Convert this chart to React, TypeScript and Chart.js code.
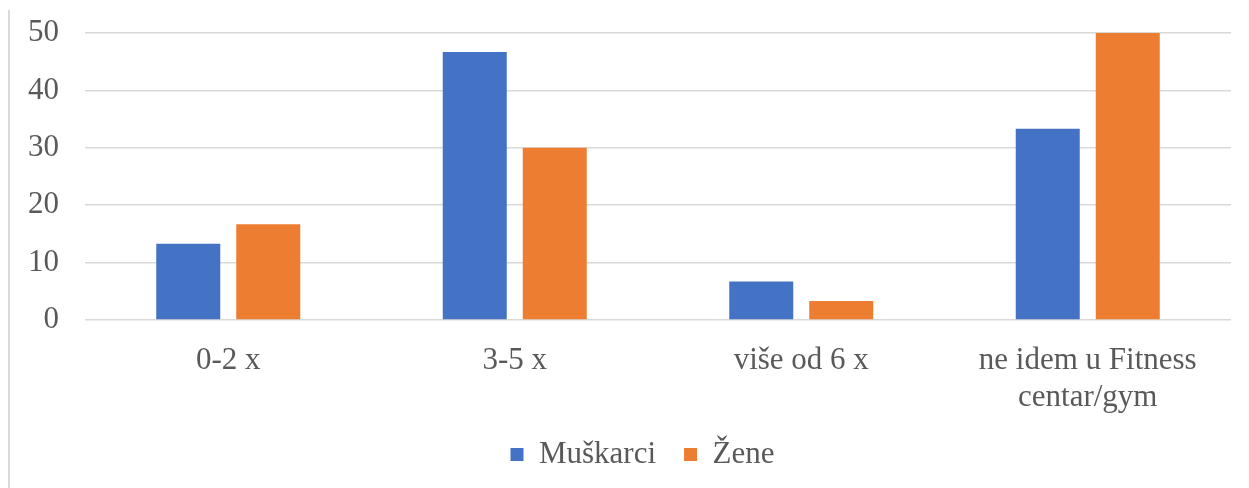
import React, { useEffect, useRef } from "react";
import { Chart, registerables } from "chart.js";

Chart.register(...registerables);

const categories: (string | string[])[] = ["0-2 x", "3-5 x", "više od 6 x", ["ne idem u Fitness", "centar/gym"]];
const muskarci = [13.3, 46.7, 6.7, 33.3];
const zene = [16.7, 30, 3.3, 50];
const yTicks = [0, 10, 20, 30, 40, 50];

const FONT = "'Liberation Serif', 'Times New Roman', serif";
const TEXT = "#595959";
const GRID = "#d9d9d9";
const FS = 31;

const legendShift = {
  id: "legendShift",
  afterLayout(chart: any) {
    const lg = chart.legend;
    if (!lg) return;
    lg.left += 27;
    lg.right += 27;
    lg.top -= 6;
    lg.bottom -= 6;
  },
};

export default function App() {
  const ref = useRef<HTMLCanvasElement>(null);
  useEffect(() => {
    if (!ref.current) return;
    const chart = new Chart(ref.current, {
      type: "bar",
      data: {
        labels: categories,
        datasets: [
          { label: "Muškarci", data: muskarci, backgroundColor: "#4472C4", categoryPercentage: 0.5585, barPercentage: 0.8 },
          { label: "Žene", data: zene, backgroundColor: "#ED7D31", categoryPercentage: 0.5585, barPercentage: 0.8 },
        ],
      },
      options: {
        animation: false,
        responsive: false,
        maintainAspectRatio: false,
        layout: { padding: { left: 0, right: 18, top: 33, bottom: 2 } },
        plugins: {
          tooltip: { enabled: false },
          legend: {
            position: "bottom",
            labels: {
              font: { family: FONT, size: FS },
              color: TEXT,
              boxWidth: 13,
              boxHeight: 13,
              padding: 28,
            },
          },
        },
        scales: {
          x: {
            grid: { display: false },
            border: { display: false },
            ticks: {
              font: { family: FONT, size: FS },
              color: TEXT,
              padding: 14,
              maxRotation: 0,
              autoSkip: false,
            },
            afterFit: (s: any) => { s.height = 97; s.paddingLeft = 0; s.paddingRight = 0; },
          },
          y: {
            min: 0,
            max: 50,
            afterBuildTicks: (s: any) => { s.ticks = yTicks.map((v) => ({ value: v })); },
            grid: { color: GRID, lineWidth: 1.5, drawTicks: false },
            border: { display: false },
            ticks: {
              font: { family: FONT, size: FS },
              color: TEXT,
              padding: 26,
            },
            afterFit: (s: any) => { s.width = 85; s.paddingTop = 0; s.paddingBottom = 0; },
          },
        },
      },
      plugins: [legendShift],
    });
    return () => chart.destroy();
  }, []);
  return (
    <div style={{ position: "fixed", left: 0, top: 0, width: 1249, height: 488, background: "#fff" }}>
      <div style={{ position: "absolute", left: 8, top: 10, width: 2, height: 478, background: GRID }} />
      <canvas ref={ref} width={1249} height={488} style={{ position: "absolute", left: 0, top: 0 }} />
    </div>
  );
}
